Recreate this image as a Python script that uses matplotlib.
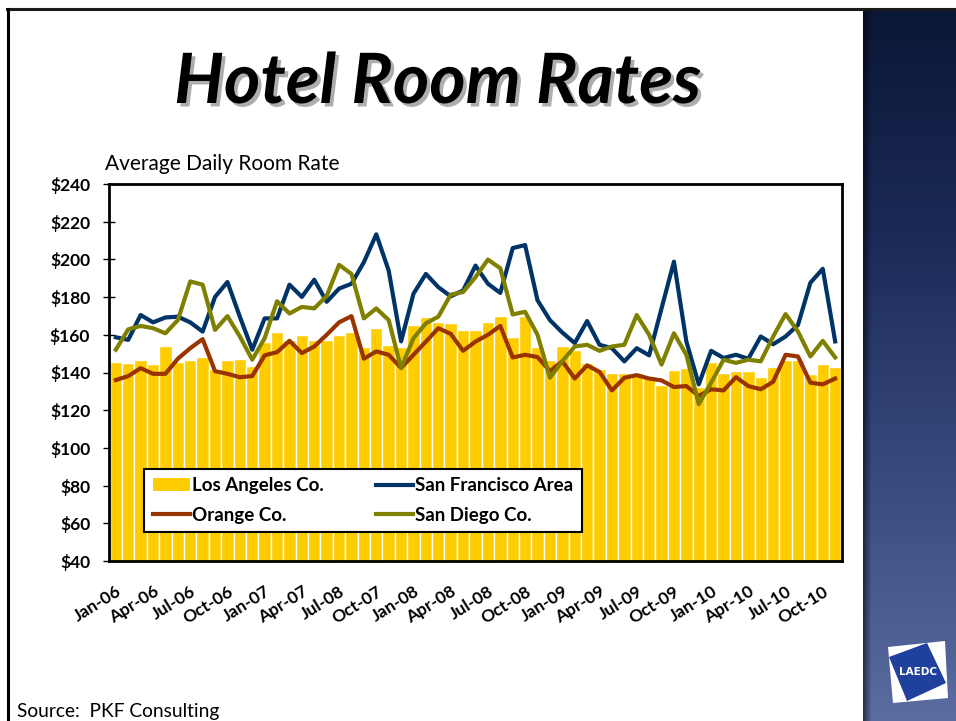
import numpy as np
import matplotlib
matplotlib.use("Agg")
import matplotlib.pyplot as plt
from matplotlib import patheffects
from matplotlib.lines import Line2D
from matplotlib.patches import Patch, Polygon
from matplotlib.colors import LinearSegmentedColormap

# Monthly average daily room rate, Jan-2006 .. Nov-2010
los_angeles = [145.8, 145.1, 146.6, 144.5, 154.0, 145.8, 146.6, 148.2, 141.6, 146.6,
               147.2, 143.5, 156.1, 161.4, 157.2, 159.8, 157.2, 157.2, 159.8, 161.4,
               153.5, 163.5, 154.7, 153.5, 165.2, 169.2, 166.6, 166.1, 162.6, 162.6,
               166.6, 169.8, 158.7, 169.8, 153.5, 146.8, 153.8, 152.1, 145.1, 141.9,
               139.8, 139.8, 139.8, 138.1, 133.2, 141.4, 142.4, 132.5, 145.6, 139.8,
               141.0, 141.0, 137.7, 143.0, 146.8, 146.8, 139.3, 144.5, 143.0]

san_francisco = [158.7, 157.3, 170.5, 166.6, 169.2, 169.6, 166.6, 161.7, 180.1, 188.0,
                 169.6, 152.1, 168.7, 168.7, 186.6, 180.1, 189.2, 177.5, 184.5, 187.1,
                 198.5, 213.3, 194.1, 156.5, 181.8, 192.3, 185.3, 180.4, 183.5, 196.7,
                 187.1, 182.2, 206.0, 207.6, 178.3, 167.8, 161.2, 155.6, 167.3, 154.7,
                 152.9, 145.9, 152.9, 149.1, 174.0, 198.8, 156.5, 133.7, 151.5, 147.7,
                 149.4, 147.3, 159.1, 155.0, 159.1, 165.2, 187.6, 195.0, 156.5]

orange_co = [136.0, 138.1, 142.3, 139.3, 139.3, 147.3, 152.9, 157.7, 140.7, 139.3,
             137.5, 138.1, 149.1, 150.8, 156.8, 150.3, 153.8, 160.0, 166.6, 169.9,
             147.3, 151.2, 149.4, 142.4, 149.4, 156.4, 163.5, 160.5, 151.5, 156.4,
             160.0, 164.7, 148.0, 149.4, 148.2, 140.7, 146.0, 136.8, 143.8, 140.3,
             130.5, 137.2, 138.6, 136.8, 135.8, 132.3, 132.8, 127.6, 131.1, 130.5,
             137.5, 132.8, 131.1, 135.1, 149.4, 148.5, 134.6, 133.7, 136.8]

san_diego = [152.1, 162.9, 164.7, 163.5, 160.8, 167.8, 188.3, 186.6, 162.6, 169.9,
             159.1, 146.8, 158.2, 177.8, 171.3, 174.8, 174.0, 180.6, 197.1, 192.3,
             168.7, 174.0, 167.8, 142.4, 158.2, 166.1, 169.6, 181.3, 182.7, 190.6,
             199.9, 195.3, 170.8, 172.2, 160.0, 137.2, 146.0, 153.8, 154.7, 151.5,
             153.8, 154.7, 170.5, 160.0, 144.2, 160.8, 149.4, 123.2, 134.6, 146.8,
             145.1, 146.8, 145.9, 159.1, 171.0, 161.7, 148.5, 156.8, 148.0]

tick_labels = ["Jan-06", "Apr-06", "Jul-06", "Oct-06", "Jan-07", "Apr-07", "Jul-08",
               "Oct-07", "Jan-08", "Apr-08", "Jul-08", "Oct-08", "Jan-09", "Apr-09",
               "Jul-09", "Oct-09", "Jan-10", "Apr-10", "Jul-10", "Oct-10"]

y_ticks = [40, 60, 80, 100, 120, 140, 160, 180, 200, 220, 240]

series_names = ["Los Angeles Co.", "San Francisco Area", "Orange Co.", "San Diego Co."]

C_LA = "#FFCC00"
C_SF = "#003366"
C_OC = "#993300"
C_SD = "#808000"
LW = 3.0

FONT = "Lato"
W, H = 956, 721

fig = plt.figure(figsize=(W / 100, H / 100), dpi=100)
fig.patch.set_facecolor("white")


def fx(px):
    return px / W


def fy(py):
    return 1 - py / H


# Right-hand decorative panel with vertical gradient
panel = fig.add_axes([fx(863), 0, fx(W - 863), fy(9)])
grad_cmap = LinearSegmentedColormap.from_list(
    "panel", ["#0b1737", "#1c2b58", "#3a4b80", "#5b6ca0"])
panel.imshow(np.linspace(0, 1, 256).reshape(-1, 1), aspect="auto",
             cmap=grad_cmap, extent=[0, 1, 0, 1], origin="upper")
panel.imshow(np.linspace(0.55, 0, 12).reshape(1, -1), aspect="auto",
             cmap=LinearSegmentedColormap.from_list("sh", [(0, 0, 0, 0), (0, 0, 0, 1)]),
             extent=[0, 0.09, 0, 1], vmin=0, vmax=1)
panel.set_xlim(0, 1)
panel.set_ylim(0, 1)
panel.axis("off")

# Slide frame lines
fig.add_artist(Line2D([fx(7), 1], [fy(8.5), fy(8.5)], color="#1a1a1a", lw=2.2))
fig.add_artist(Line2D([fx(8), fx(8)], [fy(8.5), 0], color="black", lw=2.2))

# Logo
logo = fig.add_axes([fx(880), fy(710), fx(75), fy(632) - fy(710)])
logo.set_xlim(880, 955)
logo.set_ylim(710, 632)
logo.add_patch(Polygon([(888, 647), (945, 641), (948, 698), (893, 703)],
                       closed=True, facecolor="white", edgecolor="none"))
logo.add_patch(Polygon([(927, 643), (946, 683), (907, 701), (889, 657)],
                       closed=True, facecolor="#1f409c", edgecolor="none"))
logo.text(918, 672, "LAEDC", color="white", fontsize=7.5, fontweight="bold",
          ha="center", va="center", family="DejaVu Sans")
logo.axis("off")

# Main chart
ax = fig.add_axes([fx(109), fy(561), fx(842) - fx(109), fy(184) - fy(561)])
x = np.arange(len(los_angeles))

ax.bar(x, los_angeles, width=1.0, bottom=0, color=C_LA, edgecolor="white",
       linewidth=1.0, label=series_names[0], zorder=2)
ax.plot(x, san_francisco, color=C_SF, lw=LW, label=series_names[1], zorder=3)
ax.plot(x, orange_co, color=C_OC, lw=LW, label=series_names[2], zorder=3)
ax.plot(x, san_diego, color=C_SD, lw=LW, label=series_names[3], zorder=4)

ax.set_ylim(40, 240)
ax.set_xlim(-0.55, len(los_angeles) - 0.45)
ax.set_yticks(y_ticks)
ax.set_yticklabels([f"${v}" for v in y_ticks], fontsize=12.5, fontweight="bold",
                   family=FONT)
ax.set_xticks(x[::3])
ax.set_xticklabels(tick_labels, rotation=32, ha="right", va="top",
                   rotation_mode="anchor", fontsize=12.5, fontweight="bold",
                   family=FONT)
ax.tick_params(axis="y", direction="inout", length=9, width=1.0, pad=9)
ax.tick_params(axis="x", length=0, pad=16)
for sp in ax.spines.values():
    sp.set_linewidth(2.0)
    sp.set_color("black")

handles = [Patch(facecolor=C_LA, edgecolor="none"),
           Line2D([], [], color=C_OC, lw=LW),
           Line2D([], [], color=C_SF, lw=LW),
           Line2D([], [], color=C_SD, lw=LW)]
labels = [series_names[0], series_names[2], series_names[1], series_names[3]]
leg = ax.legend(handles, labels, ncol=2, loc="lower left",
                bbox_to_anchor=(0.048, 0.077, 0.597, 0.164), mode="expand",
                prop={"family": FONT, "weight": "bold", "size": 13.5},
                frameon=True, fancybox=False, edgecolor="black", framealpha=1,
                facecolor="white", handlelength=2.0, handletextpad=0.1,
                borderaxespad=0, labelspacing=0.65, columnspacing=1.0,
                borderpad=0.45)
leg.get_frame().set_linewidth(1.5)
leg.set_zorder(5)

# Texts
fig.text(fx(105), fy(170.5), "Average Daily Room Rate", fontsize=15,
         family=FONT, ha="left", va="baseline")
fig.text(fx(17), fy(717), "Source:  PKF Consulting", fontsize=13.8,
         family=FONT, ha="left", va="baseline")
fig.text(fx(438), fy(103), "Hotel Room Rates", fontsize=50, family=FONT,
         fontweight="bold", style="italic", ha="center", va="baseline",
         path_effects=[patheffects.withSimplePatchShadow(offset=(2.5, -2.5),
                                                         shadow_rgbFace="#999999",
                                                         alpha=0.8)])

fig.savefig("out.png", dpi=100)
